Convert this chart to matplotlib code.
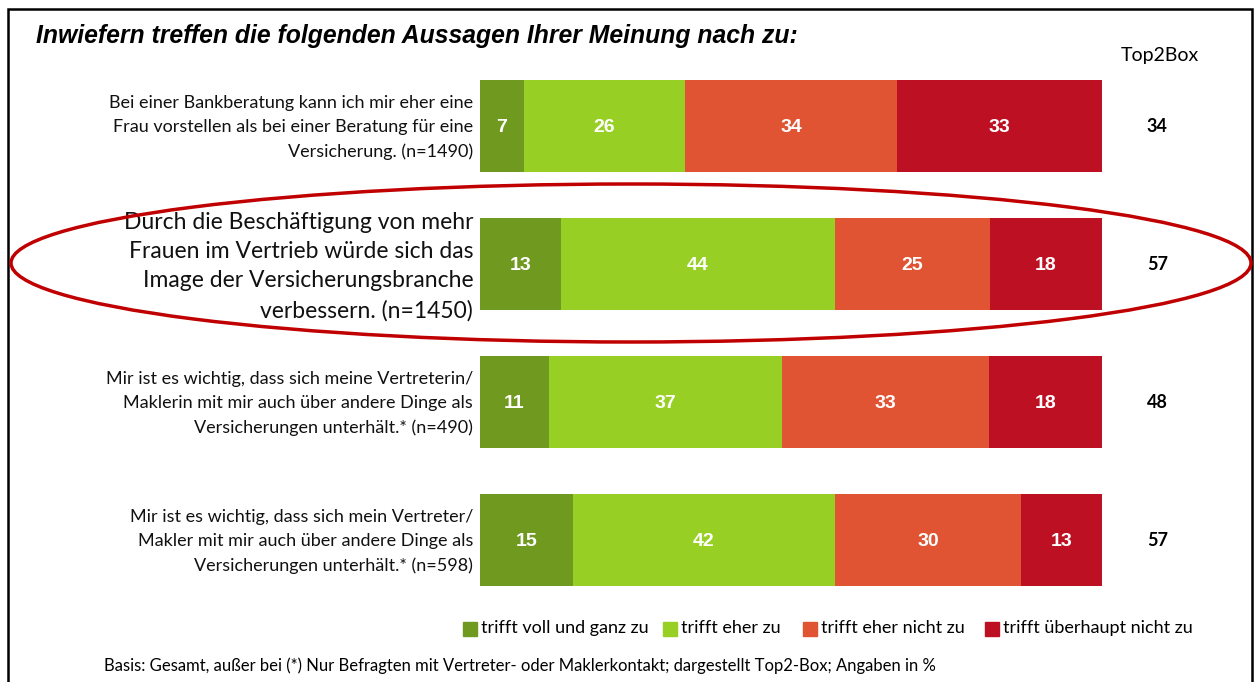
import numpy as np
import matplotlib.pyplot as plt
from matplotlib.patches import Ellipse, Rectangle

statements = [
    "Bei einer Bankberatung kann ich mir eher eine\nFrau vorstellen als bei einer Beratung für eine\nVersicherung. (n=1490)",
    "Durch die Beschäftigung von mehr\nFrauen im Vertrieb würde sich das\nImage der Versicherungsbranche\nverbessern. (n=1450)",
    "Mir ist es wichtig, dass sich meine Vertreterin/\nMaklerin mit mir auch über andere Dinge als\nVersicherungen unterhält.* (n=490)",
    "Mir ist es wichtig, dass sich mein Vertreter/\nMakler mit mir auch über andere Dinge als\nVersicherungen unterhält.* (n=598)",
]
categories = ["trifft voll und ganz zu", "trifft eher zu", "trifft eher nicht zu", "trifft überhaupt nicht zu"]
voll = [7, 13, 11, 15]
eher = [26, 44, 37, 42]
eher_nicht = [34, 25, 33, 30]
gar_nicht = [33, 18, 18, 13]
top2box = [34, 57, 48, 57]
colors = ["#6f9a1f", "#97cf25", "#e05433", "#bd1022"]

W, H = 1256, 682
fig = plt.figure(figsize=(W / 100, H / 100), dpi=100)

ax = fig.add_axes([480 / W, 1 - 609 / H, 622 / W, 552 / H])
data = np.array([voll, eher, eher_nicht, gar_nicht], dtype=float)
share = data / data.sum(axis=0) * 100
y = np.arange(len(statements))
left = np.zeros(len(statements))
for i, cat in enumerate(categories):
    ax.barh(y, share[i], left=left, height=0.667, color=colors[i], label=cat)
    for j in range(len(statements)):
        ax.text(left[j] + share[i][j] / 2, y[j] + 0.01, str(int(data[i][j])), ha="center", va="center",
                color="white", fontsize=14, fontweight="bold", family="Liberation Sans")
    left += share[i]
ax.set_xlim(0, 100)
ax.set_ylim(3.5, -0.5)
ax.axis("off")

# statement labels and Top2Box values
for j, s in enumerate(statements):
    big = j == 1
    ax.text(-1.1, y[j] + (0.02 if big else 0.01), s, ha="right", va="center", fontsize=16.5 if big else 13,
            family="Lato", linespacing=1.48 if big else 1.6, color="#111111")
    ax.text(108.9, y[j], str(top2box[j]), ha="center", va="center", fontsize=13,
            fontweight="bold", family="Lato")

fig.text(1160 / W, 1 - 55 / H, "Top2Box", ha="center", va="center", fontsize=14, family="Lato")
fig.text(36 / W, 1 - 36 / H, "Inwiefern treffen die folgenden Aussagen Ihrer Meinung nach zu:",
         ha="left", va="center", fontsize=17.8, fontweight="bold", style="italic", family="Liberation Sans")

# legend
leg_x = [463, 663, 803, 985]
for i, cat in enumerate(categories):
    fig.patches.append(Rectangle((leg_x[i] / W, 1 - 636 / H), 14 / W, 14 / H,
                                 transform=fig.transFigure, color=colors[i]))
    fig.text((leg_x[i] + 18) / W, 1 - 628 / H, cat, ha="left", va="center", fontsize=13, family="Lato")

fig.text(104 / W, 1 - 666 / H,
         "Basis: Gesamt, außer bei (*) Nur Befragten mit Vertreter- oder Maklerkontakt; dargestellt Top2-Box; Angaben in %",
         ha="left", va="center", fontsize=12, family="Lato")

# frame
fig.patches.append(Rectangle((7.5 / W, -0.01), 1244 / W, 1 - 9 / H + 0.01, transform=fig.transFigure,
                             fill=False, edgecolor="black", linewidth=1.8))

# highlight ellipse
fig.patches.append(Ellipse((631 / W, 1 - 263 / H), 1240 / W, 158 / H, transform=fig.transFigure,
                           fill=False, edgecolor="#c00000", linewidth=2.5))

plt.savefig("out.png", dpi=100)
